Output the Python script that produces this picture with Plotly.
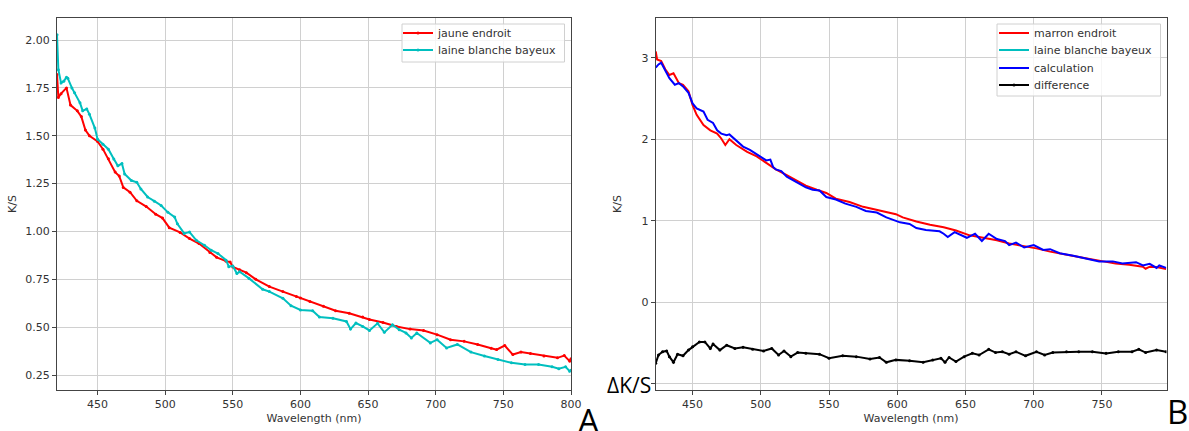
import plotly.graph_objects as go

# ---------------- Panel A data ----------------
wl_a_jaune = [420, 421, 423, 427, 430, 435, 438, 441, 444, 450, 454, 458, 463, 466, 469, 474, 479, 486,
              493, 498, 503, 511, 518, 525, 533, 538, 545, 548, 550, 555, 560, 567, 577, 587, 597, 600,
              607, 617, 626, 636, 646, 651, 661, 671, 681, 691, 701, 711, 721, 731, 741, 745, 751, 757,
              763, 770, 780, 790, 795, 799, 800]
ks_a_jaune = [1.82, 1.70, 1.72, 1.75, 1.66, 1.63, 1.60, 1.53, 1.50, 1.47, 1.43, 1.38, 1.31, 1.29, 1.23,
              1.205, 1.16, 1.13, 1.09, 1.07, 1.02, 0.995, 0.963, 0.937, 0.89, 0.865, 0.845, 0.84, 0.815,
              0.80, 0.785, 0.75, 0.712, 0.686, 0.66, 0.652, 0.634, 0.61, 0.586, 0.573, 0.553, 0.54,
              0.525, 0.504, 0.49, 0.483, 0.461, 0.435, 0.426, 0.41, 0.39, 0.383, 0.404, 0.357, 0.37,
              0.363, 0.35, 0.34, 0.352, 0.323, 0.335]

wl_a_laine = [420, 421, 423, 425, 427, 428, 431, 433, 437, 439, 442, 444, 448, 450, 454, 458, 462, 465,
              468, 470, 475, 479, 482, 487, 492, 497, 502, 507, 509, 514, 518, 523, 529, 534, 539, 545,
              547, 550, 553, 555, 562, 572, 577, 587, 593, 600, 609, 614, 624, 634, 637, 641, 646, 651,
              657, 662, 668, 673, 678, 682, 686, 696, 701, 708, 716, 726, 736, 746, 756, 766, 776, 786,
              791, 796, 799, 800]
ks_a_laine = [2.027, 1.845, 1.776, 1.785, 1.805, 1.80, 1.75, 1.724, 1.672, 1.63, 1.64, 1.612, 1.54, 1.482,
              1.456, 1.43, 1.378, 1.343, 1.355, 1.30, 1.266, 1.257, 1.222, 1.18, 1.158, 1.136, 1.10,
              1.075, 1.04, 0.99, 0.997, 0.954, 0.928, 0.902, 0.885, 0.85, 0.816, 0.82, 0.78, 0.79,
              0.755, 0.698, 0.686, 0.651, 0.612, 0.59, 0.586, 0.553, 0.547, 0.53, 0.49, 0.522, 0.504,
              0.483, 0.52, 0.473, 0.513, 0.487, 0.47, 0.444, 0.47, 0.418, 0.435, 0.392, 0.41, 0.37,
              0.35, 0.331, 0.314, 0.305, 0.305, 0.293, 0.283, 0.293, 0.27, 0.275]

# ---------------- Panel B data ----------------
wl_b_marron = [423, 424, 427, 430, 433, 436, 440, 443, 447, 450, 453, 458, 463, 468, 471, 474, 477, 482,
               490, 497, 504, 511, 519, 526, 533, 541, 548, 555, 565, 575, 585, 592, 599, 604, 614, 624,
               634, 643, 653, 663, 673, 682, 692, 702, 712, 721, 731, 741, 751, 760, 770, 780, 782, 785,
               790, 797]
ks_b_marron = [3.08, 2.98, 2.96, 2.86, 2.79, 2.81, 2.69, 2.67, 2.59, 2.42, 2.30, 2.175, 2.11, 2.07, 2.01,
               1.93, 2.00, 1.93, 1.845, 1.79, 1.71, 1.63, 1.56, 1.50, 1.43, 1.38, 1.34, 1.27, 1.23, 1.17,
               1.13, 1.11, 1.08, 1.04, 0.99, 0.95, 0.92, 0.88, 0.82, 0.79, 0.76, 0.72, 0.69, 0.66, 0.62,
               0.59, 0.56, 0.53, 0.50, 0.475, 0.46, 0.435, 0.41, 0.435, 0.43, 0.405]

wl_b_laine = []
ks_b_laine = []

wl_b_calc = [423, 425, 427, 430, 433, 437, 440, 443, 447, 450, 453, 458, 461, 465, 468, 471, 475, 477,
             482, 487, 492, 499, 504, 507, 509, 511, 515, 519, 526, 533, 538, 543, 548, 555, 562, 570,
             577, 585, 592, 599, 602, 609, 614, 621, 631, 634, 637, 642, 651, 657, 662, 667, 673, 679,
             682, 687, 693, 700, 707, 712, 719, 729, 738, 748, 758, 765, 775, 780, 785, 790, 792, 797]
ks_b_calc = [2.88, 2.92, 2.94, 2.84, 2.75, 2.67, 2.69, 2.65, 2.57, 2.44, 2.38, 2.34, 2.24, 2.20, 2.11,
             2.07, 2.05, 2.06, 1.99, 1.91, 1.87, 1.80, 1.74, 1.75, 1.66, 1.63, 1.61, 1.54, 1.48, 1.41,
             1.38, 1.37, 1.29, 1.26, 1.21, 1.17, 1.12, 1.10, 1.04, 1.00, 0.98, 0.96, 0.91, 0.885, 0.87,
             0.84, 0.80, 0.86, 0.79, 0.84, 0.75, 0.84, 0.775, 0.75, 0.70, 0.73, 0.67, 0.70, 0.64, 0.65,
             0.60, 0.57, 0.54, 0.50, 0.50, 0.475, 0.49, 0.45, 0.47, 0.42, 0.45, 0.42]

wl_b_diff = [423, 425, 428, 431, 433, 436, 439, 443, 447, 450, 455, 459, 463, 465, 470, 475, 481, 487,
             494, 502, 508, 513, 517, 522, 527, 533, 543, 550, 560, 570, 580, 587, 592, 599, 609, 619,
             626, 632, 635, 638, 643, 649, 655, 660, 667, 672, 677, 682, 687, 694, 702, 708, 714, 724,
             733, 743, 753, 762, 772, 777, 782, 790, 797]
ks_b_diff = [-0.75, -0.65, -0.61, -0.60, -0.67, -0.74, -0.64, -0.66, -0.59, -0.55, -0.49, -0.49, -0.57,
             -0.515, -0.59, -0.53, -0.57, -0.555, -0.58, -0.60, -0.57, -0.65, -0.60, -0.67, -0.62,
             -0.63, -0.64, -0.69, -0.66, -0.67, -0.70, -0.68, -0.74, -0.71, -0.72, -0.74, -0.71, -0.69,
             -0.74, -0.68, -0.73, -0.67, -0.63, -0.65, -0.58, -0.62, -0.61, -0.64, -0.61, -0.66, -0.61,
             -0.65, -0.62, -0.61, -0.61, -0.61, -0.63, -0.61, -0.61, -0.58, -0.62, -0.59, -0.61]

# ---------------- Figure ----------------
W, H = 1189, 431
FONT = "DejaVu Sans"
TXT = "#333333"
GRID = "#d0d0d0"
AX = "#444444"


def px(xp):
    return xp / W


def py(yp):
    return 1 - yp / H


fig = go.Figure()

fig.add_trace(go.Scatter(x=wl_a_jaune, y=ks_a_jaune, name="jaune endroit", mode="lines+markers",
                         line=dict(color="#ff0000", width=2), marker=dict(size=3, color="#ff0000"),
                         xaxis="x", yaxis="y", legend="legend"))
fig.add_trace(go.Scatter(x=wl_a_laine, y=ks_a_laine, name="laine blanche bayeux", mode="lines+markers",
                         line=dict(color="#00bfbf", width=2), marker=dict(size=3, color="#00bfbf"),
                         xaxis="x", yaxis="y", legend="legend2"))

fig.add_trace(go.Scatter(x=wl_b_marron, y=ks_b_marron, name="marron endroit", mode="lines",
                         line=dict(color="#ff0000", width=2), xaxis="x2", yaxis="y2", legend="legend3"))
fig.add_trace(go.Scatter(x=wl_b_laine if wl_b_laine else [None], y=ks_b_laine if ks_b_laine else [None],
                         name="laine blanche bayeux", mode="lines",
                         line=dict(color="#00bfbf", width=2), xaxis="x2", yaxis="y2", legend="legend4"))
fig.add_trace(go.Scatter(x=wl_b_calc, y=ks_b_calc, name="calculation", mode="lines",
                         line=dict(color="#0000ff", width=2), xaxis="x2", yaxis="y2", legend="legend5"))
fig.add_trace(go.Scatter(x=wl_b_diff, y=ks_b_diff, name="difference", mode="lines+markers",
                         line=dict(color="#000000", width=2), marker=dict(size=3, color="#000000"),
                         xaxis="x2", yaxis="y2", legend="legend6"))

ydom = [py(390), py(18)]
common_axis = dict(showline=True, mirror=True, linecolor=AX, linewidth=1, ticks="outside",
                   ticklen=4, tickcolor=AX, showgrid=True, gridcolor=GRID, gridwidth=1,
                   zeroline=False, tickfont=dict(family=FONT, size=11, color=TXT), automargin=False)


def leg(xp, yp):
    return dict(x=px(xp), y=py(yp), xanchor="left", yanchor="middle",
                bgcolor="rgba(0,0,0,0)", borderwidth=0,
                font=dict(family=FONT, size=11, color=TXT))


fig.update_layout(
    width=W, height=H,
    margin=dict(l=0, r=0, t=0, b=0),
    paper_bgcolor="white", plot_bgcolor="white",
    font=dict(family=FONT, size=11, color=TXT),
    showlegend=True,
    xaxis=dict(domain=[px(57), px(571)], range=[420, 800], tickvals=[450, 500, 550, 600, 650, 700, 750, 800],
               title=dict(text="Wavelength (nm)", standoff=4, font=dict(family=FONT, size=11, color=TXT)),
               anchor="y", **common_axis),
    yaxis=dict(domain=ydom, range=[0.172, 2.115], tickvals=[0.25, 0.5, 0.75, 1.0, 1.25, 1.5, 1.75, 2.0],
               tickformat=".2f",
               title=dict(text="K/S", standoff=6, font=dict(family=FONT, size=11, color=TXT)),
               anchor="x", **common_axis),
    xaxis2=dict(domain=[px(655.6), px(1166.5)], range=[422.9, 797.3], tickvals=[450, 500, 550, 600, 650, 700, 750],
                title=dict(text="Wavelength (nm)", standoff=4, font=dict(family=FONT, size=11, color=TXT)),
                anchor="y2", **common_axis),
    yaxis2=dict(domain=ydom, range=[-1.08, 3.49], tickvals=[-1, 0, 1, 2, 3],
                ticktext=["", "0", "1", "2", "3"],
                title=dict(text="K/S", standoff=17, font=dict(family=FONT, size=11, color=TXT)),
                anchor="x2", **common_axis),
    legend=leg(398, 33),
    legend2=leg(398, 50),
    legend3=leg(994, 33),
    legend4=leg(994, 50),
    legend5=leg(994, 68),
    legend6=leg(994, 85),
    shapes=[
        dict(type="rect", xref="paper", yref="paper", x0=px(402), x1=px(564.5), y0=py(62), y1=py(24),
             line=dict(color="#d0d0d0", width=1), fillcolor="rgba(255,255,255,0.8)", layer="above"),
        dict(type="rect", xref="paper", yref="paper", x0=px(997), x1=px(1160.5), y0=py(96), y1=py(24),
             line=dict(color="#d0d0d0", width=1), fillcolor="rgba(255,255,255,0.8)", layer="above"),
    ],
    annotations=[
        dict(text="ΔK/S", xref="paper", yref="paper", x=px(629), y=py(385), xanchor="center",
             yanchor="middle", showarrow=False, font=dict(family="Open Sans", size=21, color="#000000")),
        dict(text="A", xref="paper", yref="paper", x=px(588), y=py(420), xanchor="center",
             yanchor="middle", showarrow=False, font=dict(family="Open Sans", size=33, color="#000000")),
        dict(text="B", xref="paper", yref="paper", x=px(1177), y=py(411), xanchor="center",
             yanchor="middle", showarrow=False, font=dict(family="Open Sans", size=33, color="#000000")),
    ],
)

fig.write_html("out.html", config={"displayModeBar": False},
               post_script="document.body.style.margin='0';document.body.style.padding='0';document.body.style.overflow='hidden';")
